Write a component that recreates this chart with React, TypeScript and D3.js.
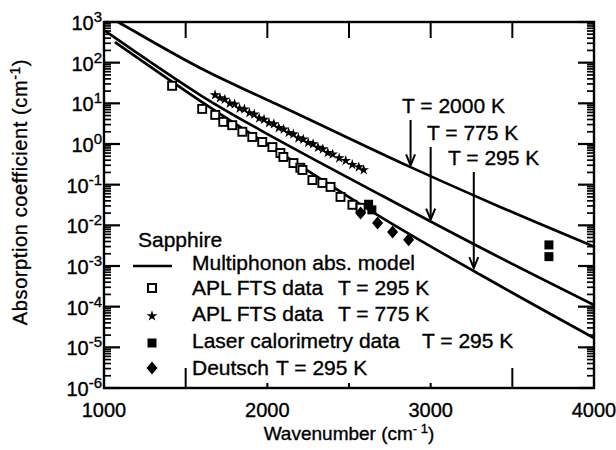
import React from "react";
import * as d3 from "d3";

// ---- data ----
const xTickLabels = [1000, 2000, 3000, 4000];
const yDecades = [-6, -5, -4, -3, -2, -1, 0, 1, 2, 3];
const xMinorTicks = [1500, 2000, 2500, 3000, 3500];

// Multiphonon model curves [wavenumber, absorption coefficient]
const model2000K: [number, number][] = [
  [1040, 1260], [1086, 1000], [1589, 74], [2202, 5.1], [2877, 0.27], [3429, 0.028], [4000, 0.003],
];
const model775K: [number, number][] = [
  [1000, 630], [1589, 16], [1957, 2.2], [2693, 0.056], [3307, 0.0028], [4000, 0.00011],
];
const model295K: [number, number][] = [
  [1067, 320], [1589, 11.5], [1957, 1.26], [2693, 0.0162], [3307, 0.0006], [4000, 0.000017],
];

// APL FTS data T = 295 K (open squares)
const fts295: [number, number][] = [
  [1417, 27], [1601, 7.3], [1681, 5.2], [1730, 3.5], [1785, 2.9], [1847, 2.0], [1908, 1.49],
  [1969, 1.12], [2031, 0.84], [2080, 0.6], [2098, 0.48], [2160, 0.34], [2202, 0.26], [2215, 0.23],
  [2276, 0.13], [2337, 0.11], [2387, 0.088], [2448, 0.05], [2521, 0.032], [2571, 0.027],
];
// APL FTS data T = 775 K (stars)
const fts775: [number, number][] = [
  [1680, 16], [1710, 13.5], [1740, 12.5], [1770, 10], [1800, 9.5], [1830, 7.5], [1860, 7.2],
  [1890, 5.8], [1920, 5.4], [1950, 4.3], [1980, 4.0], [2010, 3.3], [2040, 3.1], [2070, 2.5],
  [2100, 2.3], [2130, 1.9], [2160, 1.75], [2190, 1.4], [2220, 1.3], [2250, 1.08], [2280, 1.0],
  [2310, 0.82], [2340, 0.75], [2370, 0.61], [2400, 0.56], [2440, 0.45], [2480, 0.39],
  [2520, 0.31], [2560, 0.27], [2590, 0.23],
];
// Laser calorimetry data T = 295 K (filled squares)
const laser295: [number, number][] = [
  [2620, 0.033], [2640, 0.024], [3724, 0.0033], [3724, 0.0017],
];
// Deutsch T = 295 K (filled diamonds)
const deutsch295: [number, number][] = [
  [2571, 0.02], [2675, 0.0114], [2767, 0.0069], [2865, 0.0044],
];

// annotations: label, arrow wavenumber, arrow tip value
const annotLabels = ["T = 2000 K", "T = 775 K", "T = 295 K"];
const annotWn = [2877, 3000, 3264];
const annotTip = [0.3, 0.0138, 0.00089];

const legendLabels = [
  "Multiphonon abs. model",
  "APL FTS data",
  "APL FTS data",
  "Laser calorimetry data",
  "Deutsch",
];
const legendTemps = ["", "T = 295 K", "T = 775 K", "T = 295 K", "T = 295 K"];

const FONT = "'Liberation Sans', Arial, Helvetica, sans-serif";

export default function App() {
  const W = 616, H = 450;
  const left = 104, right = 594, top = 22, bottom = 388;
  const x = d3.scaleLinear().domain([1000, 4000]).range([left, right]);
  const y = d3.scaleLog().domain([1e-6, 1e3]).range([bottom, top]);

  const line = d3
    .line<[number, number]>()
    .x((d) => x(d[0]))
    .y((d) => y(d[1]))
    .curve(d3.curveCatmullRom.alpha(0.5));

  const star = d3.symbol().type(d3.symbolStar).size(36);
  const starPath = star() as string;

  // log minor ticks
  const minorTicks: number[] = [];
  yDecades.slice(0, -1).forEach((e) => {
    for (let m = 2; m <= 9; m++) minorTicks.push(m * Math.pow(10, e));
  });

  const diamond = (cx: number, cy: number) =>
    `M${cx},${cy - 6.5}L${cx + 5.5},${cy}L${cx},${cy + 6.5}L${cx - 5.5},${cy}Z`;

  const legendBase = [270, 295, 321, 348, 375];
  const legendTempX = [0, 338, 338, 422, 276];
  const markerX = 152;

  const annotTextX = [402, 427, 448];
  const annotBase = [113, 140, 165];

  const txt = { stroke: "#000", strokeWidth: 0.35 };

  return (
    <svg
      width={W}
      height={H}
      style={{ position: "absolute", left: 0, top: 0, background: "#fff" }}
      fontFamily={FONT}
    >
      <defs>
        <clipPath id="plot">
          <rect x={left} y={top} width={right - left} height={bottom - top} />
        </clipPath>
      </defs>
      <rect width={W} height={H} fill="#fff" />

      {/* frame */}
      <rect x={left} y={top} width={right - left} height={bottom - top} fill="none" stroke="#000" strokeWidth={2.4} />

      {/* left & right y ticks */}
      {yDecades.map((e) => (
        <g key={"maj" + e}>
          <line x1={left} x2={left + 16} y1={y(Math.pow(10, e))} y2={y(Math.pow(10, e))} stroke="#000" strokeWidth={2.2} />
          <line x1={right} x2={right - 16} y1={y(Math.pow(10, e))} y2={y(Math.pow(10, e))} stroke="#000" strokeWidth={2.2} />
        </g>
      ))}
      {minorTicks.map((v, i) => (
        <g key={"min" + i}>
          <line x1={left} x2={left + 7} y1={y(v)} y2={y(v)} stroke="#000" strokeWidth={1.7} />
          <line x1={right} x2={right - 7} y1={y(v)} y2={y(v)} stroke="#000" strokeWidth={1.7} />
        </g>
      ))}

      {/* x ticks */}
      {xMinorTicks.map((v) => (
        <g key={"xt" + v}>
          <line x1={x(v)} x2={x(v)} y1={top} y2={top + 16} stroke="#000" strokeWidth={2} />
          <line
            x1={x(v)}
            x2={x(v)}
            y1={bottom}
            y2={bottom - (v === 1500 || v === 3500 ? 20 : 5)}
            stroke="#000"
            strokeWidth={2}
          />
        </g>
      ))}

      {/* y tick labels */}
      {yDecades.map((e) => (
        <text key={"yl" + e} x={102} y={y(Math.pow(10, e)) + 8} textAnchor="end" fontSize={20} {...txt}>
          10
          <tspan dy={-8} fontSize={15}>
            {e < 0 ? "-" + Math.abs(e) : String(e)}
          </tspan>
        </text>
      ))}

      {/* x tick labels */}
      {xTickLabels.map((v) => (
        <text key={"xl" + v} x={x(v)} y={417} textAnchor="middle" fontSize={20} {...txt}>
          {v}
        </text>
      ))}

      {/* axis titles */}
      <text x={349} y={440} textAnchor="middle" fontSize={19} {...txt}>
        Wavenumber (cm
        <tspan dy={-7} fontSize={13}>- 1</tspan>
        <tspan dy={7}>)</tspan>
      </text>
      <text transform="translate(27,192) rotate(-90)" textAnchor="middle" fontSize={20} letterSpacing={0.6} {...txt}>
        Absorption coefficient (cm
        <tspan dy={-7} fontSize={14}>-1</tspan>
        <tspan dy={7}>)</tspan>
      </text>

      {/* model lines */}
      <g clipPath="url(#plot)" fill="none" stroke="#000" strokeWidth={2.7}>
        <path d={line(model2000K) || ""} />
        <path d={line(model775K) || ""} />
        <path d={line(model295K) || ""} />
      </g>

      {/* data markers */}
      {fts295.map((d, i) => (
        <rect key={"s" + i} x={x(d[0]) - 4} y={y(d[1]) - 4} width={8} height={8} fill="#fff" stroke="#000" strokeWidth={1.9} />
      ))}
      {fts775.map((d, i) => (
        <path key={"st" + i} d={starPath} transform={`translate(${x(d[0])},${y(d[1])})`} fill="#000" />
      ))}
      {laser295.map((d, i) => (
        <rect key={"l" + i} x={x(d[0]) - 4.5} y={y(d[1]) - 4.5} width={9} height={9} fill="#000" />
      ))}
      {deutsch295.map((d, i) => (
        <path key={"d" + i} d={diamond(x(d[0]), y(d[1]))} fill="#000" />
      ))}

      {/* annotations */}
      {annotLabels.map((t, i) => {
        const ax = x(annotWn[i]);
        const y0 = annotBase[i] + 7;
        const y1 = y(annotTip[i]);
        return (
          <g key={"an" + i}>
            <text x={annotTextX[i]} y={annotBase[i]} fontSize={21} {...txt}>
              {t}
            </text>
            <line x1={ax} x2={ax} y1={y0} y2={y1 - 2} stroke="#000" strokeWidth={2} />
            <path d={`M${ax - 4.5},${y1 - 11}L${ax},${y1}L${ax + 4.5},${y1 - 11}`} fill="none" stroke="#000" strokeWidth={2} />
          </g>
        );
      })}

      {/* legend */}
      <text x={138} y={247} fontSize={21} {...txt}>Sapphire</text>
      {legendLabels.map((t, i) => (
        <g key={"lg" + i}>
          <text x={192} y={legendBase[i]} fontSize={21} {...txt}>
            {t}
          </text>
          {legendTemps[i] && (
            <text x={legendTempX[i]} y={legendBase[i]} fontSize={21} {...txt}>
              {legendTemps[i]}
            </text>
          )}
        </g>
      ))}
      <line x1={133} x2={172} y1={266} y2={266} stroke="#000" strokeWidth={2.7} />
      <rect x={markerX - 4} y={288 - 4} width={8} height={8} fill="#fff" stroke="#000" strokeWidth={1.9} />
      <path d={starPath} transform={`translate(${markerX},${316})`} fill="#000" />
      <rect x={markerX - 4.5} y={343 - 4.5} width={9} height={9} fill="#000" />
      <path d={diamond(markerX, 368)} fill="#000" />
    </svg>
  );
}
